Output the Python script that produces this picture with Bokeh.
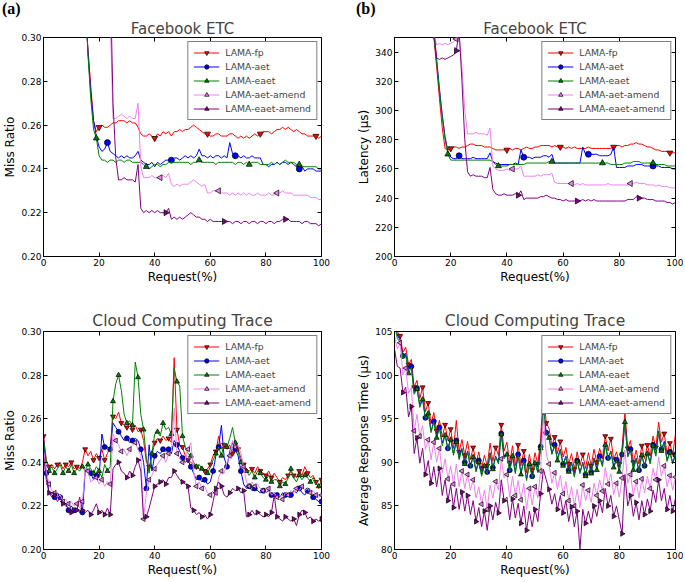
import numpy as np
from bokeh.plotting import figure
from bokeh.layouts import gridplot, column, row
from bokeh.models import (Range1d, FixedTicker, PrintfTickFormatter, Legend,
                          LegendItem, LinearAxis, Div)
from bokeh.embed import file_html
from bokeh.resources import INLINE

# ---------------- data ----------------
SERIES = ["LAMA-fp", "LAMA-aet", "LAMA-eaet", "LAMA-aet-amend", "LAMA-eaet-amend"]
COLORS = ["#ff0000", "#0000ff", "#008000", "#ee82ee", "#800080"]
X_TICKS = [0, 20, 40, 60, 80, 100]

# Facebook ETC, x = 14..100 (%)
x_top = list(range(14, 101))

tl_fp = [0.34, 0.31, 0.295, 0.278, 0.262, 0.257,
         0.259, 0.260, 0.259, 0.259, 0.260, 0.261, 0.261, 0.262, 0.262, 0.262,
         0.261, 0.262, 0.261, 0.261, 0.259, 0.256, 0.255, 0.255, 0.256, 0.255,
         0.254, 0.256, 0.255, 0.257, 0.256, 0.257, 0.255, 0.257, 0.257, 0.258,
         0.257, 0.258, 0.258, 0.259, 0.260, 0.259, 0.258, 0.257, 0.256, 0.256,
         0.255, 0.255, 0.256, 0.256, 0.255, 0.255, 0.255, 0.256, 0.256, 0.255,
         0.254, 0.255, 0.254, 0.255, 0.254, 0.255, 0.256, 0.255, 0.256, 0.257,
         0.257, 0.257, 0.256, 0.257, 0.258, 0.258, 0.259, 0.258, 0.259, 0.258,
         0.257, 0.258, 0.257, 0.256, 0.256, 0.255, 0.255, 0.255, 0.255, 0.254,
         0.255]
tl_aet = [0.34, 0.32, 0.293, 0.275, 0.262, 0.255,
          0.250, 0.248, 0.249, 0.252, 0.248, 0.247, 0.246, 0.245, 0.246, 0.245,
          0.246, 0.245, 0.245, 0.246, 0.248, 0.244, 0.243, 0.242, 0.242, 0.243,
          0.241, 0.243, 0.242, 0.243, 0.244, 0.244, 0.244, 0.245, 0.245, 0.244,
          0.245, 0.246, 0.245, 0.246, 0.245, 0.246, 0.249, 0.246, 0.246, 0.245,
          0.246, 0.245, 0.246, 0.246, 0.245, 0.246, 0.245, 0.252, 0.247, 0.246,
          0.246, 0.245, 0.246, 0.245, 0.245, 0.246, 0.245, 0.245, 0.245, 0.242,
          0.242, 0.241, 0.242, 0.242, 0.243, 0.242, 0.243, 0.243, 0.242, 0.243,
          0.242, 0.241, 0.240, 0.241, 0.239, 0.240, 0.240, 0.240, 0.239, 0.239,
          0.239]
tl_eaet = [0.34, 0.32, 0.292, 0.272, 0.258, 0.254,
           0.246, 0.244, 0.244, 0.243, 0.244, 0.244, 0.243, 0.244, 0.244, 0.243,
           0.244, 0.244, 0.243, 0.243, 0.243, 0.243, 0.242, 0.241, 0.240, 0.241,
           0.242, 0.242, 0.241, 0.242, 0.242, 0.243, 0.243, 0.243, 0.243, 0.243,
           0.243, 0.243, 0.243, 0.242, 0.243, 0.243, 0.244, 0.243, 0.243, 0.243,
           0.243, 0.243, 0.242, 0.243, 0.243, 0.243, 0.243, 0.243, 0.243, 0.242,
           0.243, 0.243, 0.242, 0.243, 0.242, 0.243, 0.243, 0.243, 0.242, 0.242,
           0.242, 0.242, 0.243, 0.242, 0.243, 0.242, 0.243, 0.244, 0.243, 0.243,
           0.243, 0.242, 0.242, 0.241, 0.241, 0.241, 0.241, 0.241, 0.241, 0.240,
           0.240]
tl_aet_amend = [0.36, 0.36, 0.36, 0.36, 0.36, 0.36,
                0.36, 0.36, 0.36, 0.36, 0.31, 0.263, 0.263, 0.264, 0.265, 0.264,
                0.263, 0.264, 0.263, 0.263, 0.270, 0.241, 0.236, 0.236, 0.236, 0.237,
                0.236, 0.236, 0.236, 0.237, 0.236, 0.238, 0.233, 0.232, 0.233, 0.232,
                0.233, 0.233, 0.233, 0.234, 0.235, 0.234, 0.233, 0.232, 0.233, 0.229,
                0.229, 0.230, 0.230, 0.230, 0.229, 0.229, 0.229, 0.228, 0.229, 0.228,
                0.229, 0.228, 0.229, 0.228, 0.229, 0.228, 0.228, 0.229, 0.228, 0.228,
                0.228, 0.229, 0.228, 0.228, 0.229, 0.229, 0.230, 0.229, 0.229, 0.229,
                0.228, 0.228, 0.228, 0.228, 0.228, 0.228, 0.227, 0.227, 0.227, 0.226,
                0.226]
tl_eaet_amend = [0.36, 0.36, 0.36, 0.36, 0.36, 0.36,
                 0.36, 0.36, 0.36, 0.36, 0.33, 0.27, 0.245, 0.235, 0.235, 0.236,
                 0.235, 0.235, 0.235, 0.234, 0.242, 0.222, 0.220, 0.221, 0.220, 0.221,
                 0.220, 0.221, 0.220, 0.220, 0.220, 0.222, 0.217, 0.218, 0.217, 0.218,
                 0.217, 0.218, 0.219, 0.220, 0.219, 0.218, 0.218, 0.217, 0.217, 0.216,
                 0.217, 0.216, 0.216, 0.216, 0.216, 0.216, 0.216, 0.216, 0.215, 0.216,
                 0.216, 0.215, 0.216, 0.216, 0.215, 0.216, 0.216, 0.215, 0.216, 0.216,
                 0.215, 0.216, 0.216, 0.215, 0.216, 0.216, 0.217, 0.217, 0.217, 0.216,
                 0.216, 0.216, 0.216, 0.215, 0.216, 0.216, 0.215, 0.215, 0.215, 0.214,
                 0.215]

tr_fp = [350, 330, 308, 288, 274, 273,
         274, 275, 275, 274, 275, 275, 276, 277, 277, 276,
         276, 276, 275, 275, 275, 274, 273, 273, 273, 273,
         273, 274, 273, 274, 274, 273, 274, 275, 274, 274,
         275, 275, 276, 276, 276, 276, 275, 276, 275, 275,
         275, 274, 275, 274, 275, 274, 274, 274, 274, 275,
         274, 274, 274, 274, 274, 274, 274, 274, 275, 276,
         276, 275, 276, 276, 277, 277, 278, 277, 277, 276,
         275, 275, 274, 273, 273, 272, 272, 272, 271, 271,
         271]
tr_aet = [352, 335, 315, 297, 282, 272,
          268, 267, 267, 269, 267, 267, 267, 267, 268, 267,
          267, 267, 267, 267, 271, 265, 264, 263, 263, 263,
          263, 263, 263, 264, 263, 273, 268, 268, 268, 267,
          268, 268, 268, 269, 269, 268, 270, 264, 264, 264,
          264, 264, 264, 264, 264, 264, 264, 275, 270, 270,
          270, 270, 270, 269, 269, 269, 269, 270, 275, 261,
          261, 261, 261, 262, 262, 262, 263, 263, 263, 262,
          262, 262, 262, 262, 262, 261, 261, 261, 261, 260,
          260]
tr_eaet = [352, 333, 313, 295, 280, 270,
           266, 266, 266, 266, 266, 266, 266, 266, 266, 266,
           266, 266, 266, 266, 266, 265, 263, 262, 262, 262,
           262, 263, 263, 263, 263, 263, 263, 264, 264, 264,
           264, 264, 264, 264, 264, 265, 265, 264, 264, 264,
           264, 264, 264, 264, 264, 264, 264, 264, 264, 264,
           264, 264, 264, 264, 264, 264, 264, 263, 263, 263,
           263, 263, 264, 264, 264, 265, 265, 265, 264, 264,
           264, 264, 264, 263, 263, 263, 263, 262, 262, 262,
           262]
tr_aet_amend = [352, 345, 346, 345, 346, 345,
                346, 347, 349, 351, 330, 300, 284, 284, 284, 285,
                284, 284, 284, 283, 288, 262, 260, 259, 259, 259,
                260, 259, 260, 260, 260, 262, 255, 255, 255, 255,
                255, 256, 255, 256, 256, 256, 257, 251, 250, 250,
                250, 250, 250, 250, 249, 250, 249, 250, 249, 249,
                249, 249, 249, 249, 249, 249, 250, 249, 249, 249,
                249, 249, 249, 249, 250, 250, 251, 250, 250, 250,
                249, 249, 249, 248, 249, 248, 248, 248, 247, 247,
                247]
tr_eaet_amend = [355, 336, 335, 336, 335, 336,
                 337, 338, 341, 355, 320, 280, 258, 255, 256, 255,
                 255, 255, 254, 254, 261, 246, 243, 242, 242, 243,
                 242, 242, 242, 243, 242, 245, 239, 240, 240, 240,
                 240, 240, 241, 241, 242, 241, 240, 240, 239, 239,
                 238, 239, 238, 238, 238, 238, 238, 239, 238, 239,
                 238, 239, 238, 238, 238, 238, 238, 238, 238, 238,
                 238, 238, 238, 239, 239, 239, 241, 240, 240, 240,
                 239, 239, 239, 238, 238, 238, 238, 237, 237, 236,
                 237]

# Cloud Computing Trace, x = 0..100 (%)
x_bot = list(range(0, 101))

bl_fp = [0.252, 0.241, 0.238, 0.239, 0.237, 0.239, 0.240, 0.237, 0.239, 0.238,
         0.240, 0.237, 0.238, 0.237, 0.240, 0.246, 0.243, 0.245, 0.241, 0.244,
         0.242, 0.246, 0.241, 0.244, 0.247, 0.261, 0.260, 0.263, 0.258, 0.257,
         0.256, 0.258, 0.255, 0.257, 0.254, 0.255, 0.250, 0.240, 0.238, 0.243,
         0.249, 0.251, 0.250, 0.252, 0.250, 0.251, 0.249, 0.288, 0.255, 0.248,
         0.247, 0.243, 0.241, 0.240, 0.239, 0.238, 0.237, 0.238, 0.236, 0.237,
         0.239, 0.243, 0.245, 0.252, 0.246, 0.248, 0.246, 0.248, 0.244, 0.250,
         0.246, 0.242, 0.239, 0.237, 0.236, 0.237, 0.235, 0.238, 0.236, 0.235,
         0.234, 0.236, 0.233, 0.235, 0.233, 0.231, 0.233, 0.232, 0.234, 0.236,
         0.234, 0.233, 0.236, 0.234, 0.238, 0.235, 0.233, 0.234, 0.231, 0.228,
         0.232]
bl_aet = [0.252, 0.235, 0.226, 0.225, 0.224, 0.226, 0.224, 0.222, 0.221, 0.218,
          0.220, 0.218, 0.219, 0.217, 0.217, 0.236, 0.237, 0.235, 0.232, 0.234,
          0.233, 0.253, 0.247, 0.247, 0.246, 0.258, 0.256, 0.254, 0.252, 0.250,
          0.251, 0.249, 0.250, 0.251, 0.250, 0.246, 0.240, 0.228, 0.248, 0.236,
          0.243, 0.245, 0.244, 0.246, 0.245, 0.246, 0.244, 0.250, 0.248, 0.245,
          0.242, 0.240, 0.241, 0.238, 0.235, 0.232, 0.233, 0.231, 0.232, 0.230,
          0.231, 0.236, 0.243, 0.247, 0.257, 0.242, 0.238, 0.245, 0.249, 0.246,
          0.243, 0.236, 0.230, 0.228, 0.229, 0.227, 0.228, 0.227, 0.226, 0.227,
          0.226, 0.227, 0.225, 0.226, 0.225, 0.224, 0.226, 0.225, 0.226, 0.225,
          0.227, 0.226, 0.228, 0.226, 0.225, 0.227, 0.226, 0.224, 0.223, 0.222,
          0.222]
bl_eaet = [0.250, 0.241, 0.236, 0.238, 0.235, 0.237, 0.239, 0.235, 0.238, 0.236,
           0.239, 0.235, 0.237, 0.236, 0.238, 0.236, 0.239, 0.237, 0.235, 0.238,
           0.236, 0.233, 0.239, 0.236, 0.238, 0.268, 0.276, 0.280, 0.273, 0.262,
           0.258, 0.259, 0.257, 0.286, 0.279, 0.262, 0.255, 0.242, 0.235, 0.244,
           0.253, 0.254, 0.252, 0.258, 0.255, 0.256, 0.253, 0.283, 0.277, 0.275,
           0.252, 0.247, 0.244, 0.243, 0.240, 0.238, 0.239, 0.237, 0.236, 0.235,
           0.238, 0.241, 0.244, 0.247, 0.243, 0.249, 0.247, 0.251, 0.256, 0.249,
           0.245, 0.240, 0.238, 0.236, 0.234, 0.236, 0.233, 0.236, 0.235, 0.233,
           0.232, 0.234, 0.231, 0.232, 0.232, 0.229, 0.231, 0.230, 0.233, 0.237,
           0.233, 0.231, 0.234, 0.232, 0.234, 0.233, 0.231, 0.233, 0.230, 0.229,
           0.231]
bl_aet_amend = [0.245, 0.236, 0.230, 0.227, 0.226, 0.224, 0.225, 0.222, 0.223, 0.221,
                0.222, 0.220, 0.221, 0.219, 0.222, 0.237, 0.236, 0.231, 0.232, 0.233,
                0.230, 0.232, 0.229, 0.231, 0.230, 0.253, 0.250, 0.248, 0.245, 0.246,
                0.243, 0.246, 0.248, 0.249, 0.246, 0.243, 0.214, 0.226, 0.232, 0.234,
                0.237, 0.239, 0.241, 0.243, 0.240, 0.244, 0.245, 0.265, 0.244, 0.242,
                0.240, 0.241, 0.246, 0.249, 0.236, 0.229, 0.231, 0.228, 0.229, 0.226,
                0.225, 0.227, 0.226, 0.233, 0.236, 0.235, 0.240, 0.243, 0.250, 0.247,
                0.248, 0.244, 0.238, 0.231, 0.229, 0.231, 0.229, 0.230, 0.228, 0.227,
                0.226, 0.228, 0.225, 0.226, 0.224, 0.225, 0.223, 0.226, 0.225, 0.227,
                0.226, 0.228, 0.227, 0.229, 0.227, 0.228, 0.226, 0.227, 0.225, 0.224,
                0.225]
bl_eaet_amend = [0.243, 0.232, 0.226, 0.224, 0.225, 0.222, 0.224, 0.221, 0.220, 0.219,
                 0.217, 0.219, 0.218, 0.224, 0.218, 0.217, 0.218, 0.216, 0.218, 0.221,
                 0.217, 0.218, 0.216, 0.219, 0.216, 0.237, 0.239, 0.240, 0.236, 0.235,
                 0.233, 0.236, 0.234, 0.238, 0.241, 0.236, 0.214, 0.215, 0.219, 0.224,
                 0.229, 0.230, 0.231, 0.232, 0.230, 0.233, 0.233, 0.236, 0.234, 0.232,
                 0.231, 0.230, 0.229, 0.219, 0.218, 0.216, 0.217, 0.215, 0.216, 0.214,
                 0.216, 0.222, 0.228, 0.231, 0.229, 0.225, 0.224, 0.226, 0.228, 0.227,
                 0.228, 0.226, 0.227, 0.215, 0.216, 0.218, 0.216, 0.217, 0.216, 0.215,
                 0.216, 0.215, 0.217, 0.225, 0.215, 0.214, 0.213, 0.215, 0.214, 0.213,
                 0.214, 0.211, 0.216, 0.218, 0.217, 0.214, 0.215, 0.213, 0.214, 0.213,
                 0.214]

br_fp = [106.5, 105.0, 104.5, 102.6, 103.2, 101.2, 101.8, 98.6, 99.4, 97.3,
         98.6, 95.8, 96.8, 94.4, 95.7, 93.6, 94.8, 92.9, 94.3, 92.5,
         93.8, 91.6, 94.8, 91.2, 92.6, 90.8, 92.4, 90.3, 91.7, 89.9,
         91.2, 89.3, 90.8, 89.6, 92.2, 90.1, 91.7, 90.8, 94.3, 91.3,
         92.3, 89.9, 91.9, 89.6, 92.0, 89.6, 91.3, 88.8, 90.9, 89.1,
         91.1, 89.8, 92.7, 98.4, 94.5, 93.9, 91.9, 92.9, 91.0, 92.4,
         90.6, 91.7, 89.8, 91.0, 89.2, 91.2, 89.6, 90.9, 89.3, 91.1,
         89.6, 91.5, 90.0, 91.6, 90.4, 93.0, 91.3, 92.7, 90.3, 91.2,
         89.8, 91.8, 95.8, 91.6, 92.5, 90.0, 91.4, 89.8, 91.9, 90.4,
         92.0, 90.7, 93.0, 91.7, 94.6, 92.3, 93.3, 91.0, 92.2, 90.8,
         93.3]
br_aet = [106.2, 104.6, 104.0, 102.2, 102.5, 100.6, 101.0, 98.0, 98.5, 96.6,
          97.3, 95.1, 95.8, 93.6, 94.7, 93.0, 94.0, 92.2, 93.2, 91.6,
          92.8, 91.0, 92.5, 90.5, 91.6, 90.0, 91.3, 89.6, 90.8, 89.1,
          90.2, 88.6, 89.7, 88.9, 91.1, 89.4, 90.7, 90.0, 93.3, 90.6,
          91.0, 89.1, 90.8, 88.9, 90.9, 88.8, 90.2, 88.1, 89.9, 88.4,
          90.0, 89.0, 91.8, 96.2, 93.4, 93.0, 91.0, 92.0, 90.4, 91.5,
          89.8, 90.7, 89.1, 90.0, 88.5, 90.2, 88.9, 90.0, 88.6, 90.1,
          88.9, 90.5, 89.3, 90.7, 89.7, 92.1, 90.5, 91.3, 89.6, 90.3,
          89.1, 90.9, 94.8, 90.8, 91.5, 89.3, 90.5, 89.1, 90.9, 89.6,
          91.1, 90.0, 92.0, 90.9, 93.6, 91.5, 92.4, 90.3, 91.2, 90.0,
          90.9]
br_eaet = [106.0, 104.2, 103.8, 101.9, 102.3, 100.2, 100.9, 97.8, 98.4, 96.3,
           97.2, 94.9, 95.6, 93.4, 94.6, 92.8, 93.9, 91.9, 93.1, 91.4,
           92.6, 90.8, 92.3, 90.3, 91.5, 89.8, 91.2, 89.4, 90.6, 88.9,
           90.0, 88.4, 89.6, 88.6, 91.0, 89.2, 90.6, 89.8, 93.2, 90.4,
           90.9, 88.9, 90.7, 88.7, 90.8, 88.6, 90.1, 87.9, 89.8, 88.2,
           89.9, 88.8, 91.6, 96.0, 93.2, 92.8, 90.9, 91.9, 90.2, 91.4,
           89.6, 90.6, 88.9, 89.9, 88.3, 90.1, 88.7, 89.9, 88.4, 90.0,
           88.7, 90.4, 89.1, 90.6, 89.5, 92.0, 90.3, 91.2, 89.4, 90.2,
           88.9, 90.8, 94.6, 90.6, 91.4, 89.1, 90.4, 88.9, 90.8, 89.4,
           91.0, 89.8, 91.9, 90.7, 93.5, 91.3, 92.2, 90.1, 91.1, 89.8,
           90.8]
br_aet_amend = [104.5, 103.0, 103.7, 100.0, 100.8, 97.9, 98.6, 93.6, 95.5, 93.0,
                94.2, 91.5, 92.6, 90.3, 92.3, 90.0, 91.6, 88.8, 90.4, 88.1,
                89.6, 87.5, 89.8, 87.2, 89.0, 87.0, 88.6, 86.8, 88.0, 85.9,
                87.2, 85.2, 86.8, 84.6, 87.4, 85.9, 87.8, 86.8, 90.4, 88.2,
                88.6, 86.0, 88.4, 86.2, 87.9, 85.7, 87.6, 84.6, 87.0, 85.1,
                87.2, 85.9, 89.0, 95.4, 91.0, 89.8, 87.6, 88.8, 86.9, 88.5,
                86.4, 87.8, 85.6, 87.2, 85.0, 86.9, 84.8, 87.4, 85.6, 86.8,
                85.4, 87.6, 86.2, 88.0, 86.7, 89.4, 87.5, 88.7, 86.3, 87.6,
                86.0, 88.2, 91.4, 87.6, 88.6, 86.2, 87.8, 85.9, 88.1, 86.5,
                88.4, 87.0, 89.3, 88.0, 90.6, 88.4, 89.6, 87.2, 88.5, 86.8,
                88.3]
br_eaet_amend = [103.0, 101.0, 100.8, 98.0, 98.6, 95.2, 96.4, 91.0, 92.8, 89.9,
                 91.6, 88.6, 90.2, 87.6, 89.5, 87.2, 89.3, 86.2, 88.0, 85.6,
                 87.4, 84.8, 87.0, 84.6, 86.6, 84.4, 86.2, 84.0, 85.6, 83.2,
                 84.8, 82.6, 84.4, 82.2, 85.0, 83.4, 85.4, 84.2, 88.0, 85.6,
                 86.0, 83.4, 85.8, 83.6, 85.3, 83.0, 85.0, 82.2, 84.4, 82.6,
                 84.6, 83.2, 86.4, 89.2, 88.0, 86.9, 85.2, 86.4, 84.6, 86.2,
                 84.2, 85.6, 83.2, 84.9, 82.6, 84.4, 80.0, 84.6, 83.0, 84.4,
                 83.0, 85.0, 83.8, 85.6, 84.2, 87.0, 85.0, 86.2, 83.8, 85.0,
                 83.4, 81.8, 88.6, 85.0, 86.2, 83.8, 85.4, 83.4, 85.6, 84.0,
                 85.8, 84.4, 86.8, 85.4, 88.0, 85.6, 87.0, 84.6, 86.2, 84.4,
                 85.9]

for arr in (tl_fp, tl_aet, tl_eaet, tl_aet_amend, tl_eaet_amend,
            tr_fp, tr_aet, tr_eaet, tr_aet_amend, tr_eaet_amend):
    assert len(arr) == len(x_top), len(arr)
for arr in (bl_fp, bl_aet, bl_eaet, bl_aet_amend, bl_eaet_amend,
            br_fp, br_aet, br_eaet, br_aet_amend, br_eaet_amend):
    assert len(arr) == len(x_bot), len(arr)

# ---------------- styling ----------------
MARKERS = [("inverted_triangle", 0.0), ("circle", 0.0), ("triangle", 0.0),
           ("triangle", np.pi / 2), ("triangle", -np.pi / 2)]
FONT = "DejaVu Sans"


def mark_idx(n, start, step):
    out, k = [], 0
    while True:
        i = int(round(start + k * step))
        if i >= n:
            break
        out.append(i)
        k += 1
    return out


def style_axis(ax, ticks, fmt=None):
    ax.ticker = FixedTicker(ticks=ticks)
    if fmt:
        ax.formatter = PrintfTickFormatter(format=fmt)
    ax.major_tick_in = 4
    ax.major_tick_out = 0
    ax.minor_tick_line_color = None
    ax.major_label_standoff = 2
    ax.axis_label_standoff = 1
    ax.major_label_text_font = FONT
    ax.major_label_text_font_size = "9px"
    ax.major_label_text_color = "black"
    ax.axis_label_text_font = FONT
    ax.axis_label_text_font_size = "12px"
    ax.axis_label_text_font_style = "normal"
    ax.axis_label_text_color = "black"
    ax.axis_line_color = "black"
    ax.major_tick_line_color = "black"


def panel(title, title_size, title_standoff, ylabel, x, ys, yr, yticks, yfmt,
          marks, msize, width, height, bl, br, bt, bb):
    p = figure(width=width, height=height, output_backend="svg",
               toolbar_location=None, x_range=Range1d(0, 100),
               y_range=Range1d(*yr), min_border_left=bl, min_border_right=br,
               min_border_top=bt, min_border_bottom=bb)
    p.grid.visible = False
    p.outline_line_color = "black"
    p.outline_line_alpha = 1
    p.background_fill_color = "white"
    p.border_fill_color = "white"
    p.title.text = title
    p.title.align = "center"
    p.title.text_font = FONT
    p.title.text_font_size = title_size
    p.title.text_font_style = "normal"
    p.title.standoff = title_standoff
    p.xaxis.axis_label = "Request(%)"
    p.yaxis.axis_label = ylabel
    style_axis(p.xaxis[0], X_TICKS)
    style_axis(p.yaxis[0], yticks, yfmt)
    # inner tick marks on the top and right edges (no labels)
    for side, tk in (("right", yticks), ("above", X_TICKS)):
        ax = LinearAxis(ticker=FixedTicker(ticks=tk))
        ax.major_label_text_color = None
        ax.major_label_text_font_size = "1px"
        ax.major_label_standoff = 0
        ax.major_tick_in = 4
        ax.major_tick_out = 0
        ax.minor_tick_line_color = None
        ax.axis_line_color = None
        ax.major_tick_line_color = "black"
        p.add_layout(ax, side)

    items = []
    n = len(x)
    for name, col, (mk, ang), y, (st, sp) in zip(SERIES, COLORS, MARKERS, ys, marks):
        lr = p.line(x, y, line_color=col, line_width=1.0)
        idx = mark_idx(n, st, sp)
        sr = p.scatter([x[i] for i in idx], [y[i] for i in idx], marker=mk,
                       angle=ang, size=msize, fill_color=col,
                       line_color="black", line_width=0.7)
        items.append(LegendItem(label=name, renderers=[lr, sr]))
    leg = Legend(items=items, location="top_right")
    leg.border_line_color = "black"
    leg.border_line_width = 1
    leg.background_fill_color = "white"
    leg.background_fill_alpha = 1
    leg.label_text_font = FONT
    leg.label_text_font_size = "9.3px"
    leg.label_height = 11
    leg.glyph_height = 11
    leg.glyph_width = 26
    leg.spacing = 3
    leg.padding = 5
    leg.margin = 4
    leg.label_standoff = 6
    p.add_layout(leg)
    return p


WL, WR = 354, 329
TAG_H = 17
HT, HB = 270, 293

p1 = panel("Facebook ETC", "15px", 0, "Miss Ratio", x_top,
           [tl_fp, tl_aet, tl_eaet, tl_aet_amend, tl_eaet_amend],
           (0.20, 0.30), [0.20, 0.22, 0.24, 0.26, 0.28, 0.30], "%.2f",
           [(6, 19.5), (9, 23), (5, 18.3), (8, 20.5), (8, 21.6)], 6,
           WL, HT, 36, 33, 16, 31)
p2 = panel("Facebook ETC", "15px", 0, "Latency (μs)", x_top,
           [tr_fp, tr_aet, tr_eaet, tr_aet_amend, tr_eaet_amend],
           (200, 350), [200, 220, 240, 260, 280, 300, 320, 340], "%d",
           [(6, 19.5), (9, 23), (5, 18.3), (8, 20.5), (8, 21.6)], 6,
           WR, HT, 37, 8, 16, 31)
p3 = panel("Cloud Computing Trace", "15.5px", 4, "Miss Ratio", x_bot,
           [bl_fp, bl_aet, bl_eaet, bl_aet_amend, bl_eaet_amend],
           (0.20, 0.30), [0.20, 0.22, 0.24, 0.26, 0.28, 0.30], "%.2f",
           [(0, 2.5), (1, 2.6), (2, 2.3), (2, 2.4), (2, 2.5)], 5,
           WL, HB, 36, 33, 44, 31)
p4 = panel("Cloud Computing Trace", "15.5px", 4, "Average Response Time (μs)", x_bot,
           [br_fp, br_aet, br_eaet, br_aet_amend, br_eaet_amend],
           (80, 105), [80, 85, 90, 95, 100, 105], "%d",
           [(2, 2.6), (3, 2.7), (5, 2.5), (2, 2.4), (3, 2.6)], 5,
           WR, HB, 37, 8, 44, 31)

# panel tags "(a)" / "(b)" in a thin row above the panels
TAG_STYLE = {"font-family": "'Liberation Serif', 'Times New Roman', serif",
             "font-size": "16px", "font-weight": "bold", "line-height": "17px",
             "padding-left": "2px", "color": "black"}
div_a = Div(text="(a)", width=WL, height=TAG_H, margin=0, styles=TAG_STYLE)
div_b = Div(text="(b)", width=WR, height=TAG_H, margin=0, styles=TAG_STYLE)

grid = gridplot([[p1, p2], [p3, p4]], toolbar_location=None)
page = column(row(div_a, div_b, spacing=0), grid, spacing=0)

with open("out.html", "w") as f:
    f.write(file_html(page, INLINE))
